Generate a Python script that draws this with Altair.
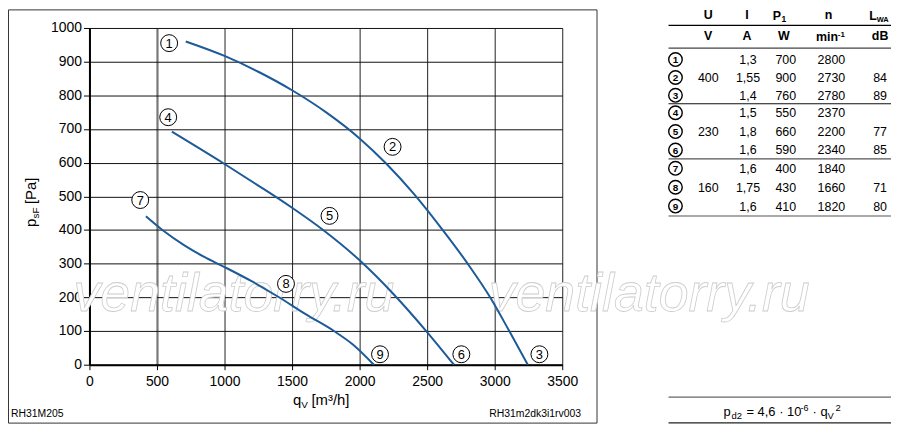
import altair as alt
import pandas as pd

FONT = "Liberation Sans"

# ---------------- data ----------------
# curve 1-2-3 (400 V)
c1_q = [713, 1000, 1250, 1500, 1750, 2000, 2200, 2400, 2600, 2800, 2965, 3105, 3245]
c1_p = [960, 917, 870, 815, 750, 672, 596, 508, 408, 300, 201, 102, 0]
# curve 4-5-6 (230 V)
c2_q = [610, 1000, 1250, 1500, 1730, 2000, 2250, 2493, 2698]
c2_p = [692, 596, 532, 466, 400, 310, 210, 100, 0]
# curve 7-8-9 (160 V)
c3_q = [418, 550, 700, 850, 1000, 1200, 1400, 1600, 1810, 1950, 2105]
c3_p = [441, 397, 355, 320, 290, 248, 201, 150, 100, 60, 0]

# operating point labels
lab_ids = ["1", "2", "3", "4", "5", "6", "7", "8", "9"]
lab_q = [590, 2244, 3331, 583, 1777, 2753, 376, 1455, 2151]
lab_p = [955, 647, 31, 735, 442, 31, 489, 240, 31]

# table
tbl_ids = ["1", "2", "3", "4", "5", "6", "7", "8", "9"]
tbl_U = ["", "400", "", "", "230", "", "", "160", ""]
tbl_I = ["1,3", "1,55", "1,4", "1,5", "1,8", "1,6", "1,6", "1,75", "1,6"]
tbl_P = ["700", "900", "760", "550", "660", "590", "400", "430", "410"]
tbl_n = ["2800", "2730", "2780", "2370", "2200", "2340", "1840", "1660", "1820"]
tbl_L = ["", "84", "89", "", "77", "85", "", "71", "80"]
hdr_main = ["U", "I", "P", "n", "L"]
hdr_units = ["V", "A", "W", "min", "dB"]

x_ticks = [0, 500, 1000, 1500, 2000, 2500, 3000, 3500]
y_ticks = [0, 100, 200, 300, 400, 500, 600, 700, 800, 900, 1000]

# ---------------- layout (page pixels) ----------------
PX0, PY0, PW, PH = 90.0, 26.7, 476.0, 339.0


def dq(X):
    return (X - PX0) / PW * 3500.0


def dp(Y):
    return (PY0 + PH - Y) / PH * 1000.0


XS = alt.Scale(domain=[0, 3500], nice=False, zero=False)
YS = alt.Scale(domain=[0, 1000], nice=False, zero=False)
XA = alt.Axis(values=x_ticks, grid=True, format="d",
              gridColor={"condition": {"test": "datum.value === 500", "value": "#777777"}, "value": "#222222"},
              gridWidth={"condition": {"test": "datum.value === 500", "value": 2.2}, "value": 1},
              domainColor="black", domainWidth=2, tickColor="black", tickSize=5, tickWidth=1,
              labelFont=FONT, labelFontSize=14, labelColor="black", labelPadding=16,
              labelBaseline="alphabetic", labelFlush=False, labelOverlap=False, title="")
YA = alt.Axis(values=y_ticks, grid=True, gridColor="#111111", gridWidth=1, format="d",
              domainColor="black", domainWidth=2, tickColor="black", tickSize=6, tickWidth=1,
              labelFont=FONT, labelFontSize=14, labelColor="black", labelPadding=2,
              labelFlush=False, labelOverlap=False, title="")
XE = alt.X("q:Q", scale=XS, axis=XA)
YE = alt.Y("p:Q", scale=YS, axis=YA)


def tdf(items):
    return pd.DataFrame({
        "t": [i[0] for i in items],
        "q": [dq(i[1]) for i in items],
        "p": [dp(i[2]) for i in items],
        "fs": [i[3] for i in items],
    })


def text_layer(items, **mk):
    return alt.Chart(tdf(items)).mark_text(font=FONT, **mk).encode(
        x=XE, y=YE, text="t:N", size=alt.Size("fs:Q", scale=None))


# ---------------- curves ----------------
curves = pd.concat([
    pd.DataFrame({"q": c1_q, "p": c1_p, "c": "a"}),
    pd.DataFrame({"q": c2_q, "p": c2_p, "c": "b"}),
    pd.DataFrame({"q": c3_q, "p": c3_p, "c": "c"}),
])
lines = alt.Chart(curves).mark_line(color="#1d5a98", strokeWidth=2, interpolate="monotone").encode(
    x=XE, y=YE, detail="c:N")

labs = pd.DataFrame({"q": lab_q, "p": lab_p, "t": lab_ids})
lab_circ = alt.Chart(labs).mark_point(shape="circle", filled=True, fill="white", stroke="black",
                                      strokeWidth=1, size=290, opacity=1).encode(x=XE, y=YE)
lab_txt = alt.Chart(labs).mark_text(font=FONT, fontSize=13, color="black", baseline="middle",
                                    align="center", dy=0.5).encode(x=XE, y=YE, text="t:N")

# ---------------- border & rules ----------------
border = alt.Chart(pd.DataFrame({"q": [dq(8.5)], "q2": [dq(601)], "p": [dp(8.5)], "p2": [dp(424.5)]})).mark_rect(
    fillOpacity=0, stroke="#333333", strokeWidth=1).encode(x=XE, x2="q2:Q", y=YE, y2="p2:Q")

rule_y = [24, 47, 103, 158.5, 216, 398.3, 424.3]
rule_c = ["#000000", "#444444", "#111111", "#555555", "#555555", "#666666", "#222222"]
rules = alt.Chart(pd.DataFrame({"q": [dq(673)] * len(rule_y), "q2": [dq(897)] * len(rule_y),
                                "p": [dp(y) for y in rule_y], "c": rule_c})).mark_rule(strokeWidth=1.2).encode(
    x=XE, x2="q2:Q", y=YE, color=alt.Color("c:N", scale=None))

# ---------------- watermark ----------------
wm = text_layer([("ventilatorry.ru", 74, 312, 54), ("ventilatorry.ru", 492, 312, 54)],
                fontStyle="italic", fill="white", stroke="#cccccc", strokeWidth=0.8,
                align="left", baseline="alphabetic")

# ---------------- table ----------------
col_x = [713, 753, 791, 837, 886]
row_y = [58.5, 76.5, 94.5, 112, 131, 149.5, 168, 187, 206]
FS = 12.5
cells = []
for i in range(9):
    for cx, vals in zip(col_x, [tbl_U, tbl_I, tbl_P, tbl_n, tbl_L]):
        if vals[i]:
            cells.append((vals[i], cx, row_y[i] + 0.5, FS))
cell_layer = text_layer(cells, color="black", align="center", baseline="middle")

tcirc = alt.Chart(pd.DataFrame({"q": [dq(680)] * 9, "p": [dp(y) for y in row_y]})).mark_point(
    shape="circle", filled=True, fill="white", stroke="black", strokeWidth=1.4, size=185, opacity=1).encode(
    x=XE, y=YE)
tcirc_txt = text_layer([(t, 680, y + 0.7, 10) for t, y in zip(tbl_ids, row_y)],
                       color="black", fontWeight="bold", align="center", baseline="middle")

hdr_c = text_layer([(hdr_main[0], 713, 14, FS), (hdr_main[1], 752, 14, FS), (hdr_main[3], 834, 14, FS),
                    (hdr_units[0], 713, 35, FS), (hdr_units[1], 752, 35, FS), (hdr_units[2], 789, 35, FS),
                    (hdr_units[4], 886, 35, FS)],
                   color="black", fontWeight="bold", align="center", baseline="middle")
hdr_l = text_layer([(hdr_main[2], 778, 18.3, FS), ("1", 786.8, 20.8, 8.5),
                    (hdr_main[4], 875, 18.3, FS), ("WA", 882.6, 20.8, 7.5),
                    (hdr_units[3], 821.5, 39.5, FS), ("-1", 843.5, 35.5, 8)],
                   color="black", fontWeight="bold", align="left", baseline="alphabetic")

# ---------------- axis titles, formula, codes ----------------
left_txt = text_layer([("q", 295, 406, 15), ("V", 303.3, 409, 10), ("[m³/h]", 313.5, 406, 15),
                       ("RH31M205", 11, 418, 10.5),
                       ("p", 728.3, 417.5, 13), ("d2", 736.5, 420.5, 9.5), ("= 4,6 · 10", 751.5, 417.5, 13),
                       ("-6", 806, 412, 9), ("· q", 818, 417.5, 13), ("V", 833, 420.5, 9.5),
                       ("2", 841, 412, 9.5)],
                      color="black", align="left", baseline="alphabetic")
right_txt = text_layer([("RH31m2dk3i1rv003", 585, 418, 10.5)],
                       color="black", align="right", baseline="alphabetic")
ytitle = text_layer([("p", 36, 227, 15), ("sF", 39, 218.5, 10), ("[Pa]", 36, 204, 15)],
                    color="black", align="left", baseline="alphabetic", angle=270)

chart = alt.layer(
    border, rules, wm, lines, lab_circ, lab_txt, cell_layer, tcirc, tcirc_txt, hdr_c, hdr_l,
    left_txt, right_txt, ytitle
).properties(
    width=476, height=339,
    padding={"left": 82, "top": 18.7, "right": 332, "bottom": 61},
    autosize=alt.AutoSizeParams(type="none"),
    background="white",
).configure_view(strokeWidth=0)

chart.save("out.html", embed_options={"renderer": "svg", "actions": False})
